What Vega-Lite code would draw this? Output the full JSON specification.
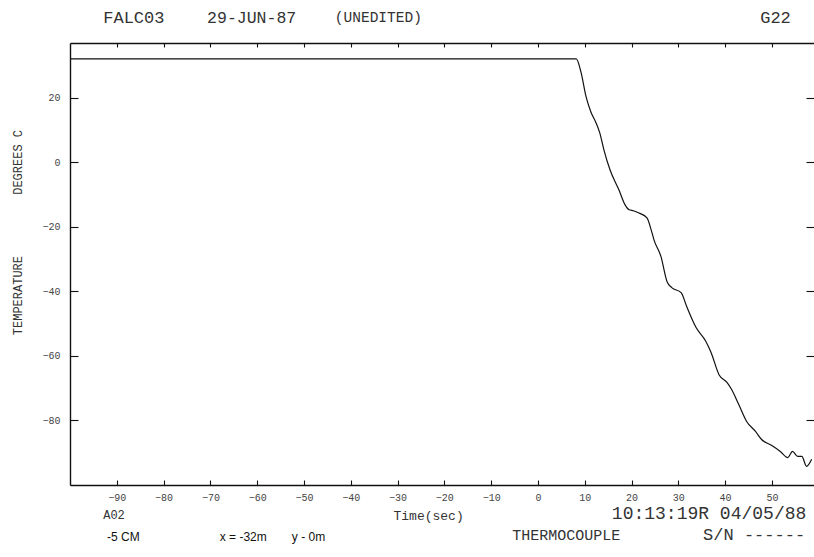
{
  "$schema": "https://vega.github.io/schema/vega-lite/v6.json",
  "width": 744,
  "height": 442,
  "autosize": {"type": "none"},
  "padding": {"left": 70, "top": 43, "right": 0, "bottom": 72},
  "background": "white",
  "config": {
    "view": {"stroke": null},
    "axis": {
      "grid": false,
      "domainColor": "#111",
      "domainWidth": 1.4,
      "tickColor": "#111",
      "tickWidth": 1.1,
      "labelFont": "Liberation Mono",
      "labelFontSize": 10,
      "labelColor": "#444",
      "titleFont": "Liberation Mono",
      "titleFontWeight": "normal",
      "titleColor": "#333"
    },
    "text": {"font": "Liberation Mono", "color": "#333", "align": "left", "baseline": "middle"}
  },
  "data": {
    "values": [
      {"t": -100, "v": 32.1}, {"t": 8.2, "v": 32.1}, {"t": 9.2, "v": 28.0}, {"t": 10.3, "v": 20.3},
      {"t": 11.3, "v": 15.7}, {"t": 12.4, "v": 12.3}, {"t": 13.2, "v": 9.2}, {"t": 14.1, "v": 3.9},
      {"t": 15.4, "v": -2.3}, {"t": 17.3, "v": -8.5}, {"t": 18.6, "v": -13.1}, {"t": 19.5, "v": -14.7},
      {"t": 20.4, "v": -15.0}, {"t": 21.6, "v": -15.7}, {"t": 23.3, "v": -17.2}, {"t": 24.2, "v": -20.9},
      {"t": 24.8, "v": -24.0}, {"t": 26.3, "v": -29.2}, {"t": 27.6, "v": -37.0}, {"t": 28.6, "v": -38.8},
      {"t": 30.6, "v": -40.4}, {"t": 31.8, "v": -44.7}, {"t": 33.8, "v": -51.2}, {"t": 35.9, "v": -55.5},
      {"t": 37.0, "v": -58.9}, {"t": 38.7, "v": -65.8}, {"t": 40.4, "v": -68.2}, {"t": 41.4, "v": -70.4},
      {"t": 42.9, "v": -75.0}, {"t": 44.6, "v": -80.3}, {"t": 46.5, "v": -83.4}, {"t": 47.8, "v": -85.9},
      {"t": 49.9, "v": -87.7}, {"t": 51.8, "v": -89.6}, {"t": 53.4, "v": -91.5}, {"t": 54.4, "v": -89.6},
      {"t": 55.5, "v": -91.1}, {"t": 56.4, "v": -91.1}, {"t": 57.4, "v": -94.2}, {"t": 58.5, "v": -92.0}
    ]
  },
  "resolve": {"axis": {"x": "independent", "y": "independent"}},
  "layer": [
    {
      "mark": {"type": "line", "color": "#111", "strokeWidth": 1.2, "interpolate": "monotone"},
      "encoding": {
        "x": {
          "field": "t", "type": "quantitative",
          "scale": {"domain": [-100, 59], "nice": false, "zero": false},
          "axis": {
            "orient": "bottom",
            "values": [-90, -80, -70, -60, -50, -40, -30, -20, -10, 0, 10, 20, 30, 40, 50],
            "tickSize": -5,
            "labelPadding": 12,
            "title": "Time(sec)",
            "titleFontSize": 13,
            "titleAnchor": "start",
            "titleAlign": "left",
            "titleBaseline": "middle",
            "titleX": 323,
            "titleY": 30
          }
        },
        "y": {
          "field": "v", "type": "quantitative",
          "scale": {"domain": [-100, 37], "nice": false, "zero": false},
          "axis": {
            "orient": "left",
            "values": [20, 0, -20, -40, -60, -80],
            "tickSize": -8,
            "labelPadding": 18,
            "title": null
          }
        }
      }
    },
    {
      "mark": {"type": "line", "opacity": 0},
      "encoding": {
        "x": {
          "field": "t", "type": "quantitative",
          "axis": {
            "orient": "top",
            "values": [-90, -80, -70, -60, -50, -40, -30, -20, -10, 0, 10, 20, 30, 40, 50],
            "tickSize": -4,
            "labels": false,
            "title": null
          }
        },
        "y": {
          "field": "v", "type": "quantitative",
          "axis": {
            "orient": "right",
            "values": [20, 0, -20, -40, -60, -80],
            "tickSize": -8,
            "labels": false,
            "domain": false,
            "title": null
          }
        }
      }
    },
    {
      "data": {"values": [{"label": "FALC03"}]},
      "mark": {"type": "text", "fontSize": 17},
      "encoding": {"text": {"field": "label"}, "x": {"datum": -92.9, "axis": null}, "y": {"datum": 44.8, "axis": null}}
    },
    {
      "data": {"values": [{"label": "29-JUN-87"}]},
      "mark": {"type": "text", "fontSize": 16.5},
      "encoding": {"text": {"field": "label"}, "x": {"datum": -70.7, "axis": null}, "y": {"datum": 44.8, "axis": null}}
    },
    {
      "data": {"values": [{"label": "(UNEDITED)"}]},
      "mark": {"type": "text", "fontSize": 14.5},
      "encoding": {"text": {"field": "label"}, "x": {"datum": -43.4, "axis": null}, "y": {"datum": 44.8, "axis": null}}
    },
    {
      "data": {"values": [{"label": "G22"}]},
      "mark": {"type": "text", "fontSize": 17},
      "encoding": {"text": {"field": "label"}, "x": {"datum": 47.5, "axis": null}, "y": {"datum": 44.8, "axis": null}}
    },
    {
      "data": {"values": [{"label": "DEGREES C"}]},
      "mark": {"type": "text", "fontSize": 12, "angle": 270, "align": "center"},
      "encoding": {"text": {"field": "label"}, "x": {"datum": -111.1, "axis": null}, "y": {"datum": 0, "axis": null}}
    },
    {
      "data": {"values": [{"label": "TEMPERATURE"}]},
      "mark": {"type": "text", "fontSize": 12, "angle": 270, "align": "center"},
      "encoding": {"text": {"field": "label"}, "x": {"datum": -111.1, "axis": null}, "y": {"datum": -41.3, "axis": null}}
    },
    {
      "data": {"values": [{"label": "A02"}]},
      "mark": {"type": "text", "fontSize": 12},
      "encoding": {"text": {"field": "label"}, "x": {"datum": -92.9, "axis": null}, "y": {"datum": -109.4, "axis": null}}
    },
    {
      "data": {"values": [{"label": "-5 CM"}]},
      "mark": {"type": "text", "fontSize": 12, "font": "Liberation Sans", "color": "#111"},
      "encoding": {"text": {"field": "label"}, "x": {"datum": -92.1, "axis": null}, "y": {"datum": -116.2, "axis": null}}
    },
    {
      "data": {"values": [{"label": "x = -32m"}]},
      "mark": {"type": "text", "fontSize": 12, "font": "Liberation Sans", "color": "#111"},
      "encoding": {"text": {"field": "label"}, "x": {"datum": -68.0, "axis": null}, "y": {"datum": -116.2, "axis": null}}
    },
    {
      "data": {"values": [{"label": "y - 0m"}]},
      "mark": {"type": "text", "fontSize": 12, "font": "Liberation Sans", "color": "#111"},
      "encoding": {"text": {"field": "label"}, "x": {"datum": -52.6, "axis": null}, "y": {"datum": -116.2, "axis": null}}
    },
    {
      "data": {"values": [{"label": "10:13:19R 04/05/88"}]},
      "mark": {"type": "text", "fontSize": 18},
      "encoding": {"text": {"field": "label"}, "x": {"datum": 15.8, "axis": null}, "y": {"datum": -109.1, "axis": null}}
    },
    {
      "data": {"values": [{"label": "THERMOCOUPLE"}]},
      "mark": {"type": "text", "fontSize": 15},
      "encoding": {"text": {"field": "label"}, "x": {"datum": -5.5, "axis": null}, "y": {"datum": -115.6, "axis": null}}
    },
    {
      "data": {"values": [{"label": "S/N ------"}]},
      "mark": {"type": "text", "fontSize": 17},
      "encoding": {"text": {"field": "label"}, "x": {"datum": 35.3, "axis": null}, "y": {"datum": -115.6, "axis": null}}
    }
  ]
}
